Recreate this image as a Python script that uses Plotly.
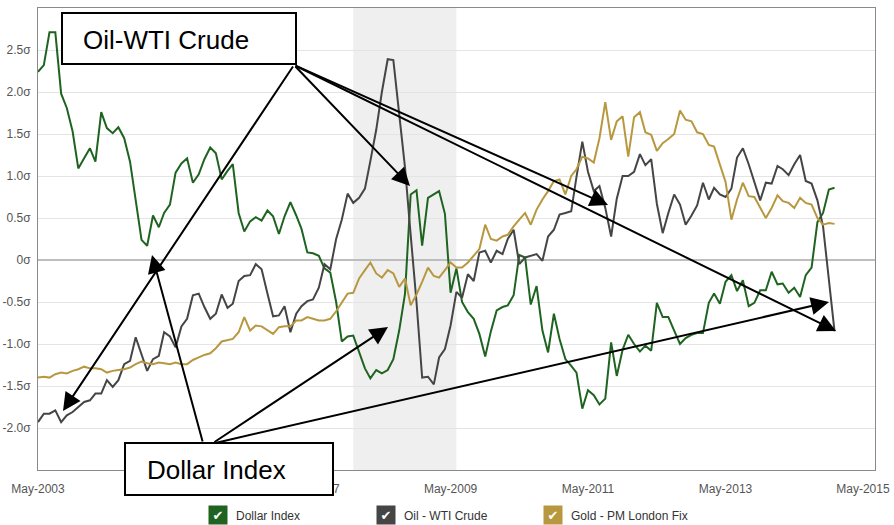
import pandas as pd
import plotly.graph_objects as go

# ---------------- data (monthly, standardised in sigma units) ----------------
start_month = "2003-05-01"

dollar_index = [
    2.24, 2.32, 2.71, 2.71, 1.98, 1.81, 1.53, 1.09, 1.21, 1.33,
    1.17, 1.76, 1.57, 1.51, 1.58, 1.45, 1.17, 0.74, 0.24, 0.17,
    0.53, 0.39, 0.56, 0.66, 1.04, 1.15, 1.21, 0.92, 1.02, 1.20,
    1.34, 1.27, 0.96, 1.06, 1.14, 0.56, 0.34, 0.46, 0.51, 0.47,
    0.59, 0.52, 0.31, 0.52, 0.69, 0.53, 0.37, 0.09, 0.08, 0.05,
    -0.10, -0.15, -0.50, -0.97, -0.91, -0.90, -1.10, -1.29, -1.41, -1.31,
    -1.35, -1.31, -1.18, -0.84, -0.40, 0.78, 0.83, 0.17, 0.74, 0.78,
    0.82, 0.55, -0.39, -0.10, -0.50, -0.62, -0.70, -0.88, -1.15, -0.85,
    -0.60, -0.56, -0.54, -0.42, 0.06, 0.03, -0.53, -0.31, -0.84, -1.10,
    -0.64, -0.94, -1.18, -1.26, -1.34, -1.77, -1.55, -1.61, -1.72, -1.65,
    -0.98, -1.38, -1.07, -0.89, -1.00, -1.09, -1.02, -1.08, -0.51, -0.68,
    -0.68, -0.84, -1.00, -0.93, -0.89, -0.87, -0.87, -0.51, -0.40, -0.52,
    -0.26, -0.18, -0.37, -0.24, -0.55, -0.51, -0.36, -0.36, -0.14, -0.29,
    -0.28, -0.39, -0.33, -0.44, -0.18, -0.09, 0.45, 0.56, 0.84, 0.86,
]

oil_wti = [
    -1.93, -1.83, -1.83, -1.79, -1.93, -1.85, -1.81, -1.75, -1.69, -1.67,
    -1.59, -1.59, -1.43, -1.51, -1.43, -1.24, -1.20, -0.92, -1.12, -1.32,
    -1.18, -1.14, -0.86, -0.91, -1.04, -0.79, -0.70, -0.42, -0.40, -0.56,
    -0.70, -0.64, -0.41, -0.57, -0.52, -0.25, -0.19, -0.18, -0.05, -0.11,
    -0.40, -0.67, -0.66, -0.55, -0.86, -0.64, -0.55, -0.49, -0.47, -0.33,
    -0.05, -0.11, 0.25, 0.48, 0.79, 0.68, 0.74, 0.85, 1.18, 1.55,
    2.00, 2.39, 2.38, 1.75, 1.10, 0.30, -0.50, -1.40, -1.39, -1.48,
    -1.16, -1.06, -0.78, -0.38, -0.45, -0.17, -0.25, 0.09, 0.11, -0.03,
    0.11, 0.07, 0.25, 0.36, -0.05, 0.03, 0.05, 0.07, -0.01, 0.28,
    0.36, 0.54, 0.56, 0.58, 0.99, 1.41, 1.05, 0.82, 0.88, 0.62,
    0.28, 0.73, 1.00, 1.00, 1.05, 1.26, 1.13, 1.20, 0.67, 0.32,
    0.56, 0.78, 0.66, 0.42, 0.53, 0.65, 0.92, 0.72, 0.86, 0.78,
    0.75, 0.85, 1.22, 1.33, 1.14, 0.92, 0.71, 0.92, 0.91, 1.12,
    1.08, 1.01, 1.14, 1.25, 0.94, 0.91, 0.71, 0.40, -0.20, -0.85,
]

gold_pm_fix = [
    -1.40, -1.39, -1.40, -1.36, -1.34, -1.35, -1.32, -1.30, -1.27, -1.29,
    -1.29, -1.30, -1.34, -1.32, -1.31, -1.30, -1.28, -1.24, -1.21, -1.23,
    -1.24, -1.22, -1.23, -1.24, -1.22, -1.24, -1.24, -1.19, -1.16, -1.13,
    -1.11, -1.05, -0.97, -0.95, -0.94, -0.86, -0.68, -0.84, -0.78, -0.79,
    -0.84, -0.88, -0.80, -0.79, -0.79, -0.72, -0.72, -0.68, -0.70, -0.72,
    -0.72, -0.70, -0.61, -0.51, -0.40, -0.39, -0.22, -0.12, -0.03, -0.16,
    -0.21, -0.12, -0.16, -0.32, -0.22, -0.54, -0.41, -0.26, -0.09, -0.19,
    -0.21, -0.12, -0.03, -0.09, -0.09, -0.03, 0.05, 0.13, 0.42, 0.25,
    0.23, 0.28, 0.30, 0.40, 0.48, 0.56, 0.42, 0.60, 0.72, 0.82,
    0.94, 0.96, 0.78, 1.00, 1.08, 1.23, 1.21, 1.16, 1.45, 1.88,
    1.43, 1.65, 1.71, 1.23, 1.70, 1.76, 1.52, 1.49, 1.30, 1.39,
    1.44, 1.50, 1.78, 1.67, 1.65, 1.52, 1.50, 1.37, 1.35, 1.14,
    0.93, 0.48, 0.72, 0.92, 0.76, 0.75, 0.62, 0.50, 0.62, 0.77,
    0.70, 0.68, 0.62, 0.74, 0.68, 0.66, 0.50, 0.42, 0.44, 0.43,
]

series_names = ["Dollar Index", "Oil - WTI Crude", "Gold - PM London Fix"]
series_colors = ["#1e6420", "#454545", "#b8983f"]

y_tick_values = [2.5, 2.0, 1.5, 1.0, 0.5, 0.0, -0.5, -1.0, -1.5, -2.0]
y_tick_labels = ["2.5σ", "2.0σ", "1.5σ", "1.0σ", "0.5σ", "0σ", "-0.5σ", "-1.0σ", "-1.5σ", "-2.0σ"]

recession_start = "2007-12-01"
recession_end = "2009-06-01"

dates = pd.date_range(start_month, periods=len(dollar_index), freq="MS")

# ---------------- layout geometry ----------------
W, H = 894, 525
L, R, T, B = 38, 19, 8, 55
PW, PH = W - L - R, H - T - B


def px(X):
    return (X - L) / PW


def py(Y):
    return (H - B - Y) / PH


fig = go.Figure()

for name, vals, col in zip(series_names, [dollar_index, oil_wti, gold_pm_fix], series_colors):
    fig.add_trace(go.Scatter(x=dates, y=vals, mode="lines", name=name,
                             line=dict(color=col, width=2), showlegend=False))

# recession shading
fig.add_shape(type="rect", xref="x", yref="paper", x0=recession_start, x1=recession_end,
              y0=0, y1=1, fillcolor="#efefef", line=dict(width=0), layer="below")

# callout boxes
fig.add_shape(type="rect", xref="paper", yref="paper", x0=px(62), x1=px(296), y0=py(13), y1=py(64),
              fillcolor="white", line=dict(color="black", width=2), layer="above")
fig.add_shape(type="rect", xref="paper", yref="paper", x0=px(125), x1=px(333), y0=py(443), y1=py(495),
              fillcolor="white", line=dict(color="black", width=2), layer="above")

annots = []
box_font = dict(family="Liberation Sans, Arial", size=26, color="black")
annots.append(dict(xref="paper", yref="paper", x=px(81), y=py(40), text="Oil-WTI Crude",
                   showarrow=False, xanchor="left", yanchor="middle", font=box_font))
annots.append(dict(xref="paper", yref="paper", x=px(145), y=py(470), text="Dollar Index",
                   showarrow=False, xanchor="left", yanchor="middle", font=box_font))

# arrows: (tail pixel, tip pixel)
arrows = [
    ((294, 65), (63, 411)),
    ((294, 65), (410, 186)),
    ((294, 65), (608, 205)),
    ((294, 65), (836, 331)),
    ((203, 443), (152, 255)),
    ((213, 443), (388, 327)),
    ((215, 443), (829, 302)),
]
for (tx, ty), (hx, hy) in arrows:
    annots.append(dict(xref="paper", yref="paper", x=px(hx), y=py(hy), ax=tx - hx, ay=ty - hy,
                       axref="pixel", ayref="pixel", text="", showarrow=True,
                       arrowhead=2, arrowsize=1.8, arrowwidth=2, arrowcolor="black", standoff=0))

# custom legend (check boxes)
legend_pos = [(218, 234), (386, 402), (553, 569)]
for (bx, lx), name, col in zip(legend_pos, series_names, series_colors):
    annots.append(dict(xref="paper", yref="paper", x=px(bx), y=py(515), text="✔",
                       showarrow=False, xanchor="center", yanchor="middle",
                       bgcolor=col, width=16, height=16, borderpad=1,
                       font=dict(family="DejaVu Sans", size=13, color="white")))
    annots.append(dict(xref="paper", yref="paper", x=px(lx), y=py(516), text=name,
                       showarrow=False, xanchor="left", yanchor="middle",
                       font=dict(family="Liberation Sans, Arial", size=12, color="#333333")))

fig.update_layout(
    width=W, height=H,
    margin=dict(l=L, r=R, t=T, b=B, autoexpand=False),
    paper_bgcolor="white", plot_bgcolor="white",
    annotations=annots,
    showlegend=False,
    font=dict(family="Liberation Sans, Arial", size=12, color="#555555"),
)

fig.update_xaxes(
    type="date", range=["2003-05-01", "2015-07-04"], automargin=False,
    tick0="2003-05-01", dtick="M24", tickformat="%b-%Y",
    showgrid=False, showline=True, mirror=True, linecolor="#8a8a8a", linewidth=1,
    ticks="", ticklabelstandoff=8,
    tickfont=dict(family="Liberation Sans, Arial", size=12, color="#555555"),
)
fig.update_yaxes(
    range=[-2.5, 3.0], tickvals=y_tick_values, ticktext=y_tick_labels, automargin=False,
    showgrid=True, gridcolor="#e4e4e4", gridwidth=1,
    zeroline=True, zerolinecolor="#bdbdbd", zerolinewidth=2,
    showline=True, mirror=True, linecolor="#8a8a8a", linewidth=1,
    ticks="", ticklabelstandoff=4,
    tickfont=dict(family="Liberation Sans, Arial", size=12, color="#555555"),
)

fig.write_html("out.html", config={"displayModeBar": False},
               post_script="document.body.style.margin='0px';")
